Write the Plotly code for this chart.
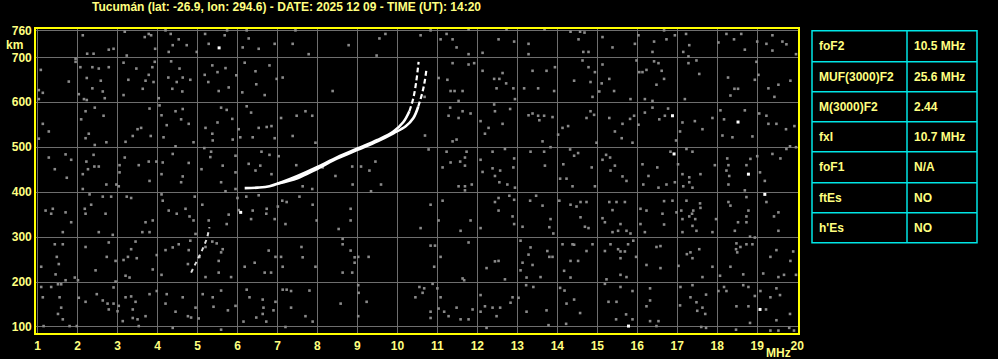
import plotly.graph_objects as go

# ---------------- data ----------------
title_text = "Tucumán (lat: -26.9, lon: 294.6) - DATE: 2025 12 09 - TIME (UT): 14:20"
x_ticks = list(range(1, 21))
y_ticks = [100, 200, 300, 400, 500, 600, 700, 760]

# F2 ordinary trace
o_freq = [6.18, 6.5, 6.8, 7.1, 7.5, 8.0, 8.5, 9.0, 9.5, 9.9, 10.15, 10.3, 10.4, 10.47, 10.53]
o_height = [409, 410, 413, 422, 436, 456, 478, 497, 516, 535, 556, 580, 610, 645, 690]
# F2 extraordinary trace
x_freq = [7.0, 7.5, 8.0, 8.5, 9.0, 9.5, 9.9, 10.2, 10.4, 10.52, 10.62, 10.68, 10.73]
x_height = [419, 431, 452, 475, 494, 513, 531, 546, 565, 590, 620, 645, 675]
# low partial trace
low_freq = [4.84, 4.95, 5.09, 5.17, 5.24, 5.3]
low_height = [221, 240, 266, 282, 298, 322]

white_points = [(5.54, 721), (6.08, 355), (16.88, 570), (18.52, 556), (16.92, 485),
                (18.78, 440), (19.19, 395), (15.78, 102), (19.07, 139)]

noise_points = [
    (2.13, 749), (2.24, 708), (2.40, 708), (2.90, 719), (2.78, 717), (3.18, 757), (3.23, 704),
    (3.68, 745), (3.78, 752), (3.84, 749), (3.94, 719), (4.2, 760), (4.33, 752), (4.28, 712),
    (4.38, 727), (4.53, 740), (4.73, 727), (4.98, 712), (5.19, 752), (5.28, 730), (5.68, 749),
    (5.74, 760), (6.13, 722), (6.23, 760), (6.28, 742), (6.53, 719), (6.93, 730), (7.38, 730),
    (7.45, 760), (7.78, 707), (8.78, 727), (9.55, 742), (9.70, 752), (9.48, 704),
    (1.08, 672), (1.03, 627), (1.13, 621), (1.03, 607), (1.95, 697), (1.95, 690), (2.07, 678),
    (2.23, 654), (2.37, 678), (2.37, 631), (2.53, 675), (2.58, 648), (2.63, 624), (2.68, 609),
    (2.78, 678), (1.78, 646), (2.03, 618), (2.16, 607), (2.23, 605), (3.15, 688), (3.27, 650),
    (3.15, 616), (3.47, 675), (3.63, 630), (3.70, 648), (3.78, 661), (3.87, 678), (3.93, 690),
    (3.90, 645), (4.03, 609), (4.27, 655), (4.34, 691), (4.55, 675), (4.63, 655), (4.48, 645),
    (4.82, 650), (4.62, 624), (4.37, 630), (5.18, 661), (5.37, 682), (5.50, 667), (5.70, 676),
    (5.78, 633), (5.53, 625), (5.27, 645), (5.97, 660), (6.12, 622), (6.18, 688), (6.45, 669),
    (6.47, 640), (6.68, 616), (6.80, 682), (6.98, 652), (7.13, 655), (8.38, 625),
    (1.13, 552), (1.03, 519), (1.28, 535), (2.09, 562), (2.2, 580), (2.43, 588), (2.65, 570),
    (2.28, 530), (2.2, 520), (2.43, 505), (2.72, 511), (3.2, 512), (3.38, 525), (3.50, 540),
    (3.59, 543), (3.83, 525), (3.8, 586), (4.05, 593), (4.1, 571), (4.23, 549), (4.15, 522),
    (4.45, 580), (4.63, 585), (4.59, 562), (4.78, 552), (4.9, 511), (4.45, 502), (5.2, 543),
    (5.37, 530), (5.38, 515), (5.5, 555), (5.59, 588), (5.73, 583), (5.87, 563), (5.88, 517),
    (6.07, 522), (6.03, 540), (6.23, 591), (6.34, 577), (6.38, 522), (6.53, 543), (6.73, 545),
    (6.85, 547), (6.93, 520), (7.09, 565), (7.38, 525), (7.48, 570), (7.70, 580), (7.87, 570),
    (7.95, 510),
    (1.28, 477), (1.43, 451), (1.7, 484), (1.84, 472), (1.73, 432), (2.22, 468), (2.26, 451),
    (2.4, 483), (2.42, 457), (2.53, 457), (2.13, 440), (3.05, 460), (3.18, 477), (3.05, 444),
    (3.53, 460), (3.78, 468), (3.97, 468), (4.13, 466), (4.1, 440), (4.38, 485), (4.63, 435),
    (4.78, 465), (5.1, 451), (5.17, 498), (5.32, 478), (5.34, 490), (5.63, 459), (5.95, 481),
    (5.95, 444), (6.28, 463), (6.45, 448), (6.57, 459), (6.6, 490), (6.8, 483), (6.85, 440),
    (7.03, 480), (7.47, 460), (8.13, 455), (8.45, 436), (8.87, 457), (9.09, 457), (9.3, 448),
    (9.45, 468),
    (10.58, 749), (10.83, 760), (11.08, 740), (11.23, 752), (11.38, 740), (11.48, 722),
    (11.78, 762), (11.78, 707), (12.13, 710), (12.53, 740), (12.73, 762), (12.92, 735),
    (13.28, 730), (13.28, 707), (13.68, 762), (14.33, 757), (14.57, 757), (14.68, 755),
    (14.53, 740), (14.65, 712), (14.78, 712), (15.13, 745), (15.38, 722), (15.94, 730),
    (16.03, 749), (16.42, 735), (16.38, 712), (16.67, 760), (16.73, 740), (16.94, 749),
    (17.15, 712), (17.3, 727), (17.22, 752), (17.28, 702), (18.03, 733), (18.23, 752),
    (18.42, 740), (18.6, 752), (18.69, 717), (19.0, 735), (19.23, 730), (19.38, 749),
    (19.63, 735), (19.73, 729), (19.97, 707), (19.38, 715),
    (10.68, 612), (11.03, 654), (11.25, 650), (11.33, 625), (11.43, 625), (11.63, 625),
    (11.53, 603), (11.38, 687), (11.78, 684), (11.92, 687), (12.13, 670), (12.42, 652),
    (12.55, 652), (12.63, 665), (12.48, 631), (12.72, 642), (12.9, 631), (12.94, 607),
    (13.17, 631), (13.38, 670), (13.52, 631), (13.73, 670), (13.92, 625), (13.94, 678),
    (14.42, 648), (14.63, 693), (14.78, 678), (14.83, 645), (14.94, 667), (14.88, 612),
    (15.05, 624), (15.13, 684), (15.11, 642), (15.3, 652), (15.42, 625), (15.83, 607),
    (15.98, 693), (16.05, 667), (16.13, 667), (16.23, 672), (16.42, 691), (16.53, 687),
    (16.61, 670), (16.67, 652), (16.48, 639), (16.19, 607), (16.38, 603), (17.19, 607),
    (17.28, 687), (17.48, 693), (17.55, 663), (18.27, 655), (18.43, 630), (18.52, 630),
    (18.33, 615), (18.94, 650), (19.03, 661), (19.28, 631), (19.53, 639), (19.43, 612),
    (19.83, 648), (18.98, 690),
    (10.69, 526), (11.32, 588), (11.28, 570), (11.63, 580), (11.53, 565), (11.83, 575),
    (12.08, 558), (12.28, 543), (12.19, 530), (12.42, 595), (12.63, 552), (12.44, 580),
    (12.82, 585), (11.38, 513), (11.48, 517), (13.28, 571), (13.38, 575), (13.52, 570),
    (13.55, 560), (13.67, 570), (13.88, 567), (13.63, 513), (14.02, 528), (14.13, 543),
    (14.27, 547), (14.73, 565), (14.83, 580), (14.92, 572), (14.98, 510), (15.3, 565),
    (15.44, 535), (15.63, 552), (15.82, 563), (15.92, 570), (16.03, 550), (15.61, 520),
    (15.88, 510), (16.19, 577), (16.38, 588), (16.55, 562), (16.69, 570), (16.77, 586),
    (17.13, 555), (17.44, 558), (17.63, 540), (17.07, 535), (16.97, 515), (17.88, 565),
    (18.08, 582), (18.17, 562), (18.69, 582), (18.38, 522), (18.13, 526), (18.88, 524),
    (19.05, 575), (19.23, 570), (19.28, 552), (19.48, 552), (19.72, 540), (19.93, 547),
    (10.78, 495), (11.13, 455), (11.23, 490), (11.33, 466), (11.57, 468), (11.69, 477),
    (11.73, 490), (11.69, 459), (12.08, 472), (12.13, 445), (12.38, 490), (12.38, 453),
    (12.57, 448), (12.44, 436), (12.69, 496), (12.92, 475), (12.9, 455), (13.33, 490),
    (13.67, 490), (13.83, 500), (13.69, 459), (14.15, 462), (14.07, 430), (14.23, 430),
    (14.42, 481), (14.52, 487), (14.32, 495), (14.86, 455), (15.13, 472), (15.22, 483),
    (15.32, 477), (15.33, 448), (15.44, 459), (15.63, 435), (16.13, 462), (16.28, 436),
    (16.5, 455), (16.83, 490), (17.02, 462), (17.23, 496), (17.38, 490), (17.13, 440),
    (17.3, 433), (17.58, 440), (17.94, 460), (18.25, 475), (18.28, 460), (18.23, 448),
    (18.3, 436), (18.83, 474), (18.73, 460), (19.0, 480), (19.07, 444), (19.38, 485),
    (19.58, 475), (19.73, 496), (19.82, 502), (19.97, 500),
    (2.13, 407), (2.72, 417), (2.97, 417), (3.03, 413), (3.8, 425), (4.59, 422), (5.59, 422),
    (5.7, 402), (5.95, 407), (7.63, 413), (7.87, 407), (8.88, 417), (9.59, 417), (9.34, 402),
    (1.2, 359), (1.38, 363), (1.34, 352), (1.7, 355), (1.84, 333), (1.63, 311), (2.18, 363),
    (2.2, 352), (2.34, 372), (2.3, 395), (2.63, 390), (2.84, 390), (2.7, 352), (2.53, 311),
    (2.88, 305), (3.34, 387), (3.23, 390), (3.7, 333), (3.62, 311), (3.88, 337), (3.8, 311),
    (4.13, 381), (4.1, 395), (4.28, 359), (4.48, 352), (4.7, 363), (4.8, 346), (4.9, 337),
    (4.93, 390), (5.12, 372), (5.28, 337), (4.95, 307), (5.73, 329), (5.78, 350), (6.0, 387),
    (6.03, 360), (6.22, 390), (6.38, 359), (6.73, 363), (6.72, 352), (6.53, 393), (6.34, 340),
    (6.93, 340), (7.01, 368), (7.12, 381), (7.23, 378), (7.2, 329), (7.55, 390), (7.88, 372),
    (7.98, 337), (8.53, 318), (8.83, 363), (8.83, 337),
    (1.09, 234), (1.43, 284), (1.63, 284), (1.48, 256), (1.53, 240), (1.45, 217), (1.7, 204),
    (1.93, 210), (2.01, 204), (2.2, 278), (2.45, 226), (2.73, 256), (2.78, 288), (2.95, 247),
    (3.15, 249), (3.26, 256), (3.34, 273), (3.45, 290), (3.48, 253), (3.2, 214), (3.3, 210),
    (2.95, 201), (3.98, 260), (3.88, 228), (4.1, 216), (4.2, 271), (4.38, 277), (4.53, 284),
    (4.78, 271), (4.82, 292), (4.76, 240), (5.05, 256), (5.2, 278), (5.37, 290), (5.48, 286),
    (5.59, 266), (5.63, 273), (5.53, 247), (5.53, 221), (5.2, 211), (5.84, 211), (6.18, 234),
    (6.43, 243), (6.68, 221), (6.84, 221), (6.78, 270), (6.95, 256), (7.09, 256), (7.13, 234),
    (7.63, 255), (7.6, 278), (7.95, 234), (8.63, 296), (8.63, 284), (8.83, 270), (8.93, 255),
    (9.02, 256), (9.28, 256), (8.63, 221), (8.87, 221), (8.93, 243),
    (1.09, 189), (1.34, 189), (1.13, 166), (1.51, 195), (1.59, 195), (1.55, 166), (1.59, 143),
    (1.51, 129), (1.63, 117), (1.15, 102), (1.8, 102), (1.98, 102), (2.03, 165), (2.2, 156),
    (2.48, 173), (2.63, 159), (2.75, 152), (2.9, 188), (2.9, 152), (2.78, 139), (3.03, 147),
    (3.0, 135), (3.2, 166), (3.34, 168), (3.45, 156), (3.38, 139), (3.13, 113), (3.38, 120),
    (3.5, 117), (3.7, 124), (3.53, 102), (3.8, 173), (3.98, 180), (4.2, 152), (4.23, 173),
    (4.45, 134), (4.63, 166), (4.76, 124), (4.95, 143), (5.03, 119), (4.84, 121), (5.13, 173),
    (5.38, 166), (5.4, 145), (5.59, 181), (5.76, 137), (5.95, 147), (6.23, 183), (6.3, 166),
    (6.63, 161), (6.65, 143), (6.47, 121), (6.63, 129), (6.9, 137), (6.95, 156), (6.15, 112),
    (6.72, 112), (7.13, 183), (7.23, 183), (7.34, 180), (7.34, 143), (7.7, 124), (7.8, 181),
    (7.88, 112), (7.2, 100), (8.58, 152), (9.02, 193), (9.03, 176), (9.02, 124), (9.23, 156),
    (10.45, 166), (4.38, 98), (5.59, 94),
    (11.53, 413), (11.69, 413), (11.86, 417), (11.69, 404), (12.55, 422), (12.75, 417),
    (12.94, 410), (14.38, 413), (14.94, 413), (15.73, 425), (16.15, 417), (16.53, 410),
    (16.73, 417), (16.94, 422), (17.15, 413), (17.3, 422), (17.38, 410), (18.28, 417),
    (18.69, 404), (19.19, 425),
    (10.83, 372), (10.58, 320), (11.13, 381), (11.03, 337), (11.58, 314), (11.83, 337),
    (12.08, 320), (12.44, 378), (12.53, 387), (12.53, 359), (12.8, 392), (12.92, 383),
    (12.88, 346), (12.92, 329), (13.13, 323), (13.32, 381), (13.47, 392), (13.63, 370),
    (13.8, 322), (13.83, 340), (13.9, 308), (14.05, 381), (14.33, 372), (14.48, 368),
    (14.58, 378), (14.73, 378), (14.58, 344), (14.69, 323), (14.78, 320), (15.13, 342),
    (15.19, 333), (15.38, 360), (15.3, 378), (15.48, 378), (15.69, 378), (15.58, 329),
    (15.38, 311), (15.52, 314), (15.73, 314), (15.83, 308), (16.08, 363), (16.23, 359),
    (16.08, 329), (16.19, 311), (16.63, 352), (16.67, 328), (16.67, 380), (16.88, 381),
    (16.98, 355), (17.1, 359), (17.23, 381), (17.4, 359), (17.37, 352), (17.3, 346),
    (17.45, 340), (17.57, 375), (17.58, 365), (17.13, 340), (17.13, 311), (17.38, 325),
    (17.48, 314), (17.88, 311), (17.97, 340), (18.28, 378), (18.33, 370), (18.52, 333),
    (18.44, 314), (18.73, 389), (18.78, 359), (18.73, 346), (18.73, 333), (18.82, 301),
    (18.94, 299), (19.23, 378), (19.42, 346), (19.53, 355), (19.53, 314),
    (10.83, 281), (10.94, 281), (11.08, 256), (10.92, 234), (11.78, 288), (11.63, 208),
    (12.23, 231), (12.44, 246), (12.53, 247), (12.69, 206), (13.08, 292), (13.33, 277),
    (13.28, 261), (13.13, 243), (13.08, 226), (13.23, 210), (13.38, 238), (13.58, 211),
    (13.75, 269), (13.88, 256), (13.8, 256), (14.13, 284), (14.38, 284), (14.42, 283),
    (14.33, 247), (14.52, 247), (14.73, 269), (14.88, 284), (14.17, 225), (14.33, 210),
    (15.19, 269), (15.33, 284), (15.52, 273), (15.58, 268), (15.69, 268), (15.58, 253),
    (15.77, 284), (15.9, 292), (15.97, 256), (15.58, 216), (15.73, 211), (15.23, 206),
    (16.23, 238), (16.48, 278), (16.58, 280), (16.58, 231), (17.03, 236), (17.24, 262),
    (17.33, 266), (17.38, 253), (17.55, 273), (17.63, 211), (17.88, 234), (18.07, 214),
    (18.33, 234), (18.48, 286), (18.58, 278), (18.47, 273), (18.5, 266), (18.73, 284),
    (18.88, 284), (18.65, 217), (19.15, 219), (19.33, 256), (19.48, 271), (19.53, 211),
    (19.67, 216), (19.83, 247), (19.9, 268), (19.97, 216),
    (10.55, 189), (10.67, 186), (10.63, 176), (10.88, 196), (11.0, 186), (11.08, 166),
    (11.03, 141), (10.83, 134), (10.83, 120), (11.17, 134), (11.28, 124), (11.48, 143),
    (11.58, 117), (11.78, 117), (11.67, 204), (11.88, 139), (12.08, 171), (12.08, 134),
    (12.19, 146), (12.38, 143), (12.48, 124), (12.57, 143), (12.23, 98), (12.83, 154),
    (12.88, 166), (13.03, 165), (13.22, 193), (13.4, 189), (13.23, 134), (13.73, 137),
    (13.78, 104), (14.07, 187), (14.18, 181), (14.42, 161), (14.23, 152), (14.22, 107),
    (14.57, 131), (15.19, 196), (15.28, 156), (15.48, 156), (15.72, 128), (15.88, 180),
    (15.88, 117), (15.58, 189), (15.47, 117), (16.32, 186), (16.32, 159), (16.23, 146),
    (16.32, 113), (16.53, 113), (16.48, 102), (17.08, 189), (17.07, 148), (17.38, 193),
    (17.33, 166), (17.48, 155), (17.5, 136), (17.63, 143), (17.72, 172), (17.7, 129),
    (17.6, 100), (17.72, 98), (18.03, 180), (18.17, 189), (18.23, 180), (18.48, 146),
    (18.65, 193), (18.78, 189), (18.78, 146), (18.94, 169), (19.08, 180), (19.22, 139),
    (19.33, 166), (19.48, 186), (19.57, 171), (19.48, 115), (19.33, 92), (19.53, 92),
    (19.8, 98), (19.82, 129), (19.92, 92), (18.82, 109), (18.47, 94),
]

table_params = ["foF2", "MUF(3000)F2", "M(3000)F2", "fxI", "foF1", "ftEs", "h'Es"]
table_values = ["10.5 MHz", "25.6 MHz", "2.44", "10.7 MHz", "N/A", "NO", "NO"]

# ---------------- style / layout ----------------
FIG_W, FIG_H = 998, 359
L, R, T, B = 36, 200, 29, 26
PW, PH = FIG_W - L - R, FIG_H - T - B
YELLOW_TXT = "#ffff80"
FONT = dict(family="Liberation Sans, Arial, sans-serif", size=12, color=YELLOW_TXT, weight="bold")
GRID = "#6e6e6e"
CYAN = "#00e6e6"


def px_x(px):
    return (px - L) / PW


def px_y(py):
    return (FIG_H - B - py) / PH


fig = go.Figure()

nf = [p[0] for p in noise_points]
nh = [p[1] for p in noise_points]
fig.add_trace(go.Scatter(x=nf, y=nh, mode="markers",
                         marker=dict(symbol="square", size=2.6, color="#8a8a8a", line=dict(width=0)),
                         hoverinfo="skip", showlegend=False))


# traces: solid lower part, dashed steep upper part
def add_trace(fr, hh, split):
    fig.add_trace(go.Scatter(x=fr[:split + 1], y=hh[:split + 1], mode="lines",
                             line=dict(color="white", width=2.6, shape="spline"),
                             hoverinfo="skip", showlegend=False))
    fig.add_trace(go.Scatter(x=fr[split:], y=hh[split:], mode="lines",
                             line=dict(color="white", width=2.2, dash="5px,3px", shape="spline"),
                             hoverinfo="skip", showlegend=False))


add_trace(o_freq, o_height, 11)
add_trace(x_freq, x_height, 9)

fig.add_trace(go.Scatter(x=low_freq, y=low_height, mode="lines",
                         line=dict(color="#dddddd", width=2, dash="4px,4px"),
                         hoverinfo="skip", showlegend=False))

fig.add_trace(go.Scatter(x=[p[0] for p in white_points], y=[p[1] for p in white_points],
                         mode="markers",
                         marker=dict(symbol="square", size=3, color="white", line=dict(width=0)),
                         hoverinfo="skip", showlegend=False))

axis_common = dict(showgrid=True, gridcolor=GRID, gridwidth=1, zeroline=False,
                   showline=True, linecolor="#ffff00", linewidth=1.6, mirror=True,
                   tickfont=FONT, fixedrange=True, automargin=False)

fig.update_xaxes(range=[0.96, 20.02], tickmode="array", tickvals=x_ticks,
                 ticktext=[str(v) for v in x_ticks],
                 ticks="outside", ticklen=1, tickcolor="black", **axis_common)
fig.update_yaxes(range=[86.6, 763], tickmode="array", tickvals=y_ticks,
                 ticktext=[str(v) for v in y_ticks], ticks="", **axis_common)

annotations = [
    dict(text=title_text, xref="paper", yref="paper", x=px_x(90), y=px_y(7),
         xanchor="left", yanchor="middle", showarrow=False, font=FONT),
    dict(text="km", xref="paper", yref="paper", x=px_x(14), y=px_y(45),
         xanchor="center", yanchor="middle", showarrow=False, font=FONT),
    dict(text="MHz", xref="paper", yref="paper", x=px_x(778), y=px_y(353),
         xanchor="center", yanchor="middle", showarrow=False, font=FONT),
]

# parameter table
tx0, tx1, tx2 = 812, 907, 977
row_edges = [30.7, 61.7, 91.7, 121.7, 151.7, 182.7, 212.7, 242.7]
shapes = [dict(type="rect", xref="paper", yref="paper",
               x0=px_x(tx0), x1=px_x(tx2), y0=px_y(row_edges[-1]), y1=px_y(row_edges[0]),
               line=dict(color=CYAN, width=1.5), fillcolor="rgba(0,0,0,0)")]
shapes.append(dict(type="line", xref="paper", yref="paper",
                   x0=px_x(tx1), x1=px_x(tx1), y0=px_y(row_edges[-1]), y1=px_y(row_edges[0]),
                   line=dict(color=CYAN, width=1.5)))
for e in row_edges[1:-1]:
    shapes.append(dict(type="line", xref="paper", yref="paper",
                       x0=px_x(tx0), x1=px_x(tx2), y0=px_y(e), y1=px_y(e),
                       line=dict(color=CYAN, width=1.5)))
for i, (p, v) in enumerate(zip(table_params, table_values)):
    yc = (row_edges[i] + row_edges[i + 1]) / 2
    annotations.append(dict(text=p, xref="paper", yref="paper", x=px_x(tx0 + 5), y=px_y(yc),
                            xanchor="left", yanchor="middle", showarrow=False, font=FONT))
    annotations.append(dict(text=v, xref="paper", yref="paper", x=px_x(tx1 + 5), y=px_y(yc),
                            xanchor="left", yanchor="middle", showarrow=False, font=FONT))

fig.update_layout(width=FIG_W, height=FIG_H, autosize=False,
                  margin=dict(l=L, r=R, t=T, b=B, pad=0, autoexpand=False),
                  paper_bgcolor="black", plot_bgcolor="black",
                  annotations=annotations, shapes=shapes, showlegend=False)

fig.write_html("out.html", config={"displayModeBar": False})
